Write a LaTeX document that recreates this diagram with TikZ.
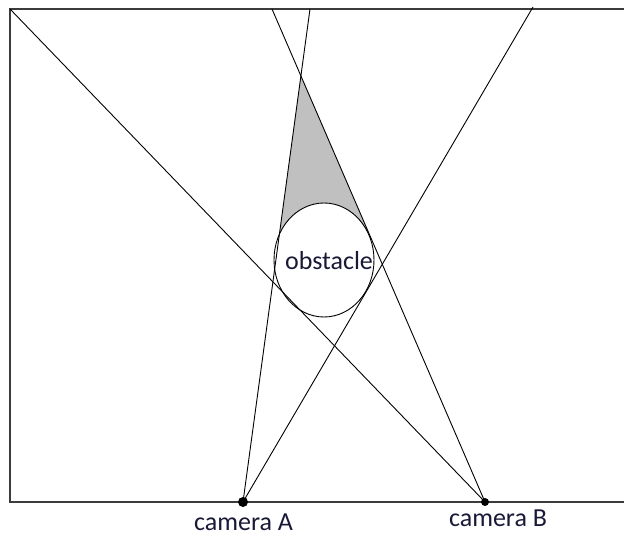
\documentclass[tikz,border=0pt]{standalone}
\usepackage{fontspec}
\setmainfont{Carlito}
\usetikzlibrary{shapes.geometric,calc}
\definecolor{txt}{RGB}{25,25,55}
\definecolor{shadegray}{RGB}{192,192,192}
\definecolor{frame}{RGB}{60,60,60}
\begin{document}
\begin{tikzpicture}[x=1pt,y=-1pt,
  ray/.style={black,line width=0.9pt},
  lbl/.style={text=txt,font=\fontsize{26}{30}\selectfont,inner sep=0pt,anchor=base},
  cam/.style={circle,fill=black,inner sep=0pt}]
\useasboundingbox (0,0) rectangle (624,537);
% frame
\coordinate (TL) at (10,9);
\coordinate (TR) at (624,9);
\coordinate (BL) at (10,502);
\coordinate (BR) at (624,502);
\draw[frame,line width=2pt] (TR) -- (TL) -- (BL) -- (BR);
% cameras and ray ends
\coordinate (A) at (243,502);
\coordinate (B) at (485,502);
\coordinate (TA1) at (310,9);
\coordinate (TA2) at (533,7);
\coordinate (TB1) at (272,9);
\coordinate (C) at (324,260);
% shaded region
\coordinate (apex) at (intersection of A--TA1 and B--TB1);
\fill[shadegray] (apex) -- ($(A)!0.485!(TA1)$) -- (C) -- ($(B)!0.5416!(TB1)$) -- cycle;
% obstacle
\node[ellipse,draw=black,fill=white,line width=0.9pt,minimum width=100pt,minimum height=114pt,inner sep=0pt] (obs) at (C) {};
\node[lbl] (obstxt) at (329,270) {obstacle};
% rays
\draw[ray] (A) -- (TA1);
\draw[ray] (A) -- (TA2);
\draw[ray] (B) -- (TB1);
\draw[ray] (B) -- (TL);
% cameras
\node[cam,minimum size=10pt] (camA) at (A) {};
\node[cam,minimum size=8pt] (camB) at (B) {};
\node[lbl] (labA) at (243.5,530) {camera A};
\node[lbl] (labB) at (498,526) {camera B};
\end{tikzpicture}
\end{document}
